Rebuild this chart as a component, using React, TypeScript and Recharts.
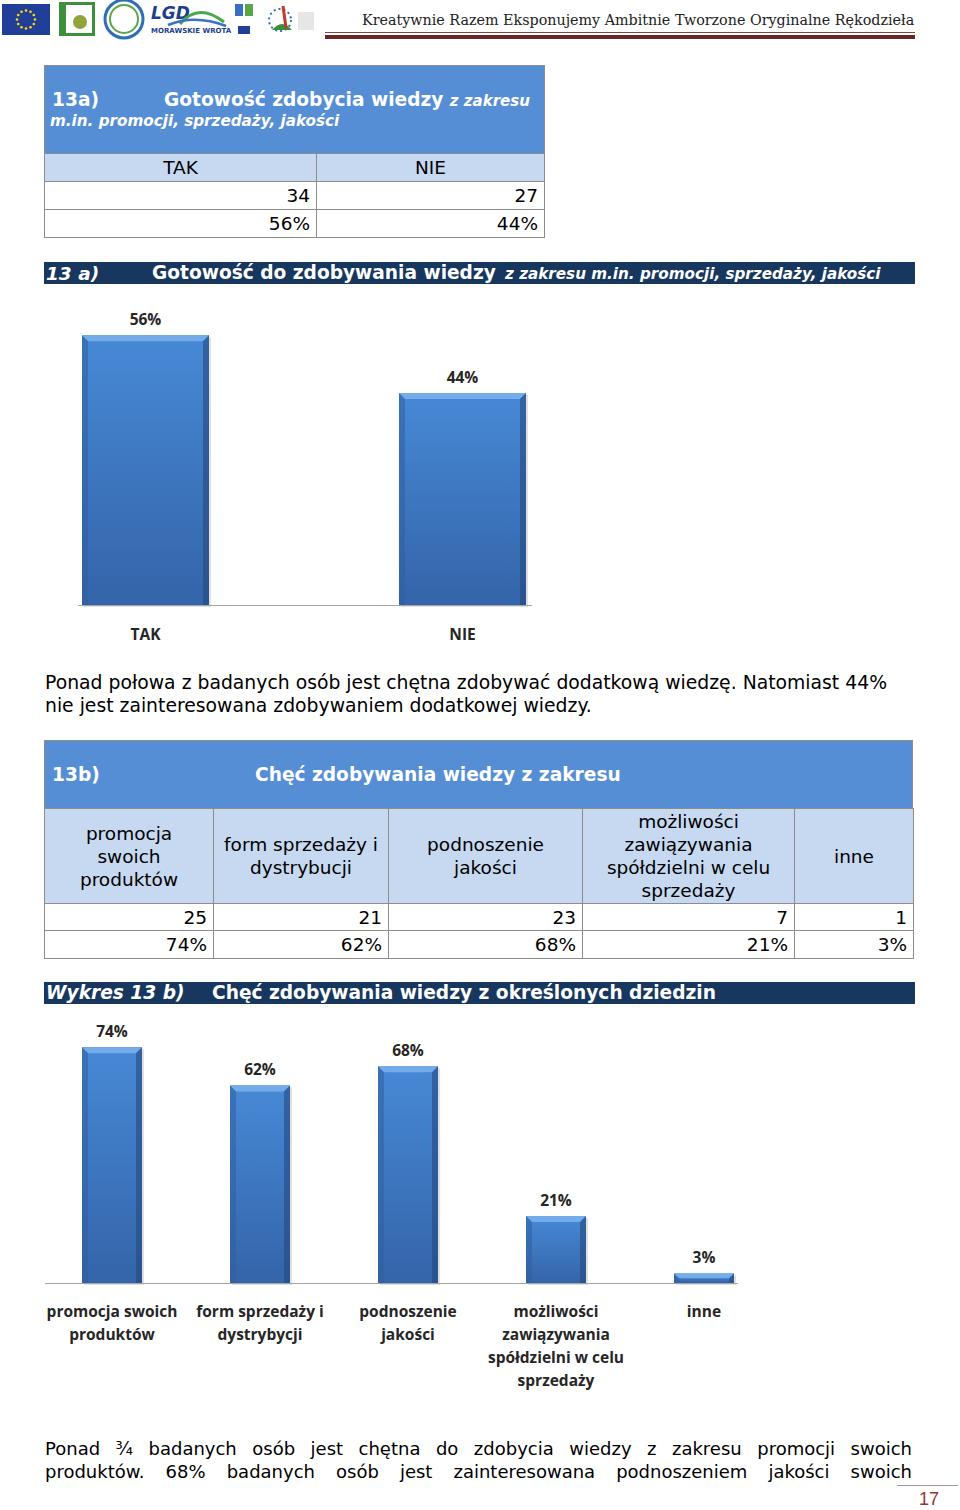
import React from "react";
import { BarChart, Bar, XAxis, YAxis, LabelList } from "recharts";

// 13a
const answers13a = ["TAK", "NIE"];
const counts13a = [34, 27];
const shares13a = [56, 44];

// 13b
const areas13b = [
  "promocja swoich\nproduktów",
  "form sprzedaży i\ndystrybycji",
  "podnoszenie\njakości",
  "możliwości\nzawiązywania\nspółdzielni w celu\nsprzedaży",
  "inne",
];
const tableHeads13b = [
  "promocja\nswoich\nproduktów",
  "form sprzedaży i\ndystrybucji",
  "podnoszenie\njakości",
  "możliwości\nzawiązywania\nspółdzielni w celu\nsprzedaży",
  "inne",
];
const counts13b = [25, 21, 23, 7, 1];
const shares13b = [74, 62, 68, 21, 3];

const data13a = answers13a.map((name, i) => ({ name, value: shares13a[i] }));
const data13b = areas13b.map((name, i) => ({ name, value: shares13b[i] }));

const SANS = '"DejaVu Sans", Verdana, sans-serif';
const LABEL_FONT = '"Open Sans", "Noto Sans", sans-serif';
const HEAD_BLUE = "#558ed5";
const LIGHT_BLUE = "#c6d9f1";
const NAVY = "#17375e";
const BORDER = "#8c8c8c";

const makeBar = (gid: string) => (props: any) => {
  const { x, y, width: w, height: h } = props;
  if (!h || h <= 0) return <g />;
  const b = Math.min(6, h / 2);
  return (
    <g>
      <rect x={x + 2} y={y + 2} width={w} height={h} fill="#000" opacity={0.12} />
      <rect x={x} y={y} width={w} height={h} fill={`url(#${gid})`} />
      <polygon points={`${x},${y} ${x + w},${y} ${x + w - b},${y + b} ${x + b},${y + b}`} fill="#74aceb" />
      <polygon points={`${x},${y} ${x + b},${y + b} ${x + b},${y + h} ${x},${y + h}`} fill="#2f5e9e" opacity={0.55} />
      <polygon points={`${x + w},${y} ${x + w - b},${y + b} ${x + w - b},${y + h} ${x + w},${y + h}`} fill="#24497e" opacity={0.6} />
    </g>
  );
};

const Grad = ({ id }: { id: string }) => (
  <defs>
    <linearGradient id={id} x1="0" y1="0" x2="0" y2="1">
      <stop offset="0%" stopColor="#4789d6" />
      <stop offset="100%" stopColor="#3464a9" />
    </linearGradient>
  </defs>
);

const makeTick = (first: number, step: number) => (props: any) => {
  const { x, y, payload } = props;
  const lines = String(payload.value).split("\n");
  return (
    <text x={x} y={y} textAnchor="middle" fontFamily={LABEL_FONT} fontWeight={700} fontSize={15.5} fill="#262626">
      {lines.map((l, i) => (
        <tspan key={i} x={x} dy={i === 0 ? first : step}>
          {l}
        </tspan>
      ))}
    </text>
  );
};

const pct = (v: any) => `${v}%`;

const Abs: React.FC<{ x: number; y: number; w?: number; h?: number; style?: React.CSSProperties; children?: React.ReactNode }> = ({
  x, y, w, h, style, children,
}) => (
  <div style={{ position: "absolute", left: x, top: y, width: w, height: h, boxSizing: "border-box", ...style }}>{children}</div>
);

// one line of text, vertically centred on cy
const Line: React.FC<{ x: number; cy: number; size: number; bold?: boolean; italic?: boolean; color?: string; children?: React.ReactNode }> = ({
  x, cy, size, bold, italic, color = "#fff", children,
}) => (
  <div
    style={{
      position: "absolute", left: x, top: cy - size, height: size * 2, lineHeight: `${size * 2}px`,
      fontFamily: SANS, fontSize: size, fontWeight: bold ? 700 : 400, fontStyle: italic ? "italic" : "normal",
      color, whiteSpace: "nowrap",
    }}
  >
    {children}
  </div>
);

const Cell: React.FC<{ x: number; y: number; w: number; h: number; bg?: string; align?: "center" | "right"; children?: React.ReactNode }> = ({
  x, y, w, h, bg = "#fff", align = "right", children,
}) => (
  <div
    style={{
      position: "absolute", left: x, top: y, width: w, height: h, boxSizing: "border-box",
      border: `1px solid ${BORDER}`, background: bg, display: "flex", alignItems: "center",
      justifyContent: align === "center" ? "center" : "flex-end", paddingRight: align === "right" ? 6 : 0,
      fontFamily: SANS, fontSize: 18.5, color: "#000", textAlign: "center", lineHeight: "23px", whiteSpace: "pre",
    }}
  >
    {children}
  </div>
);

const Logos = () => (
  <svg width={325} height={42} style={{ position: "absolute", left: 0, top: 0 }}>
    <rect x={2} y={4} width={48} height={31} fill="#213f99" />
    {Array.from({ length: 12 }).map((_, i) => {
      const a = (i / 12) * Math.PI * 2;
      return <circle key={i} cx={26 + Math.cos(a) * 9} cy={19.5 + Math.sin(a) * 9} r={1.3} fill="#ffdd00" />;
    })}
    <rect x={59} y={2} width={36} height={34} fill="#3d8f3a" />
    <rect x={66} y={5} width={26} height={28} fill="#fff" />
    <circle cx={80} cy={22} r={7} fill="#8fa53a" />
    <circle cx={124} cy={19} r={19} fill="#fff" stroke="#2d6fb3" strokeWidth={3} />
    <circle cx={124} cy={19} r={14} fill="none" stroke="#5aa646" strokeWidth={2} />
    <text x={151} y={19} fontFamily="DejaVu Sans" fontWeight={700} fontStyle="italic" fontSize={17} fill="#1d3f8f">LGD</text>
    <path d="M180 24 Q198 2 224 22" stroke="#4aa84a" strokeWidth={3} fill="none" />
    <path d="M168 25 Q195 14 226 26" stroke="#3a72c4" strokeWidth={2.5} fill="none" />
    <text x={151} y={33} fontFamily="DejaVu Sans" fontWeight={700} fontSize={7} fill="#1d3f8f">MORAWSKIE WROTA</text>
    <rect x={235} y={4} width={8} height={12} fill="#3a6fc4" />
    <rect x={245} y={4} width={8} height={12} fill="#5aa646" />
    <rect x={238} y={26} width={12} height={8} fill="#213f99" />
    <circle cx={280} cy={20} r={11} fill="none" stroke="#2d6fb3" strokeDasharray="2 3" strokeWidth={2} />
    <path d="M272 30 Q282 18 292 30" fill="#3d8f3a" />
    <path d="M283 6 L286 28" stroke="#c0392b" strokeWidth={3} />
    <rect x={298} y={12} width={16} height={18} fill="#e6e6e6" />
  </svg>
);

const colX13b = [44, 213, 388, 582, 794, 913];

export default function App() {
  return (
    <div style={{ position: "absolute", left: 0, top: 0, width: 960, height: 1510, background: "#fff", overflow: "hidden" }}>
      {/* page header */}
      <Logos />
      <div
        style={{
          position: "absolute", left: 362, top: 12, fontFamily: '"DejaVu Serif", serif', fontSize: 14.3,
          color: "#222", whiteSpace: "nowrap",
        }}
      >
        Kreatywnie Razem Eksponujemy Ambitnie Tworzone Oryginalne Rękodzieła
      </div>
      <Abs x={325} y={32} w={590} h={1} style={{ background: "#7a4a4a" }} />
      <Abs x={325} y={35} w={590} h={4} style={{ background: "#6b2626" }} />

      {/* table 13a */}
      <Abs x={44} y={65} w={501} h={89} style={{ background: HEAD_BLUE, border: `1px solid ${BORDER}` }} />
      <Line x={52} cy={100} size={18.6} bold>13a)</Line>
      <Line x={164} cy={100} size={18.6} bold>
        Gotowość zdobycia wiedzy <span style={{ fontSize: 15, fontStyle: "italic" }}>z zakresu</span>
      </Line>
      <Line x={50} cy={121} size={15.2} bold italic>m.in. promocji, sprzedaży, jakości</Line>
      {answers13a.map((a, i) => (
        <Cell key={a} x={i === 0 ? 44 : 316} y={153} w={i === 0 ? 273 : 229} h={29} bg={LIGHT_BLUE} align="center">{a}</Cell>
      ))}
      {counts13a.map((c, i) => (
        <Cell key={`c${i}`} x={i === 0 ? 44 : 316} y={181} w={i === 0 ? 273 : 229} h={29}>{c}</Cell>
      ))}
      {shares13a.map((s, i) => (
        <Cell key={`s${i}`} x={i === 0 ? 44 : 316} y={209} w={i === 0 ? 273 : 229} h={29}>{s}%</Cell>
      ))}

      {/* banner 13a */}
      <Abs x={44} y={262} w={871} h={22} style={{ background: NAVY }} />
      <Line x={46} cy={273} size={18.5} bold italic>13 a)</Line>
      <Line x={152} cy={273} size={18.6} bold>Gotowość do zdobywania wiedzy</Line>
      <Line x={505} cy={274} size={15.2} bold italic>z zakresu m.in. promocji, sprzedaży, jakości</Line>

      {/* chart 13a */}
      <div style={{ position: "absolute", left: -13, top: 291 }}>
        <BarChart width={634} height={359} data={data13a} margin={{ top: 25, right: 0, bottom: 0, left: 0 }}>
          <Grad id="barFillA" />
          <XAxis dataKey="name" height={45} axisLine={false} tickLine={false} tickSize={0} tickMargin={0} interval={0} tick={makeTick(35, 23)} />
          <YAxis hide domain={[0, 60]} />
          <Bar dataKey="value" barSize={127} isAnimationActive={false} shape={makeBar("barFillA")}>
            <LabelList dataKey="value" position="top" offset={10} formatter={pct} fill="#262626" fontFamily={LABEL_FONT} fontWeight={700} fontSize={15.5} />
          </Bar>
        </BarChart>
      </div>
      <Abs x={78} y={605} w={454} h={1} style={{ background: "#a6a6a6" }} />

      {/* paragraph 1 */}
      <div style={{ position: "absolute", left: 45, top: 671, width: 842, height: 23, lineHeight: "23px", fontFamily: SANS, fontSize: 18.8, textAlign: "justify", textAlignLast: "justify", whiteSpace: "nowrap" }}>
        Ponad połowa z badanych osób jest chętna zdobywać dodatkową wiedzę. Natomiast 44%
      </div>
      <div style={{ position: "absolute", left: 45, top: 694, lineHeight: "23px", fontFamily: SANS, fontSize: 18.8, whiteSpace: "nowrap" }}>
        nie jest zainteresowana zdobywaniem dodatkowej wiedzy.
      </div>

      {/* table 13b */}
      <Abs x={44} y={740} w={869} h={69} style={{ background: HEAD_BLUE, border: `1px solid ${BORDER}` }} />
      <Line x={52} cy={775} size={18.6} bold>13b)</Line>
      <Line x={255} cy={775} size={18.6} bold>Chęć zdobywania wiedzy z zakresu</Line>
      {tableHeads13b.map((t, i) => (
        <Cell key={`h${i}`} x={colX13b[i]} y={808} w={colX13b[i + 1] - colX13b[i] + 1} h={96} bg={LIGHT_BLUE} align="center">{t}</Cell>
      ))}
      {counts13b.map((c, i) => (
        <Cell key={`bc${i}`} x={colX13b[i]} y={903} w={colX13b[i + 1] - colX13b[i] + 1} h={28}>{c}</Cell>
      ))}
      {shares13b.map((s, i) => (
        <Cell key={`bs${i}`} x={colX13b[i]} y={930} w={colX13b[i + 1] - colX13b[i] + 1} h={29}>{s}%</Cell>
      ))}

      {/* banner 13b */}
      <Abs x={44} y={982} w={871} h={22} style={{ background: NAVY }} />
      <Line x={46} cy={993} size={18.6} bold italic>Wykres 13 b)</Line>
      <Line x={212} cy={993} size={18.6} bold>Chęć zdobywania wiedzy z określonych dziedzin</Line>

      {/* chart 13b */}
      <div style={{ position: "absolute", left: 38, top: 1003 }}>
        <BarChart width={740} height={390} data={data13b} margin={{ top: 25, right: 0, bottom: 0, left: 0 }}>
          <Grad id="barFillB" />
          <XAxis dataKey="name" height={110} axisLine={false} tickLine={false} tickSize={0} tickMargin={0} interval={0} tick={makeTick(34, 23)} />
          <YAxis hide domain={[0, 80]} />
          <Bar dataKey="value" barSize={60} isAnimationActive={false} shape={makeBar("barFillB")}>
            <LabelList dataKey="value" position="top" offset={10} formatter={pct} fill="#262626" fontFamily={LABEL_FONT} fontWeight={700} fontSize={15.5} />
          </Bar>
        </BarChart>
      </div>
      <Abs x={45} y={1283} w={693} h={1} style={{ background: "#a6a6a6" }} />

      {/* paragraph 2 */}
      {[
        "Ponad ¾ badanych osób jest chętna do zdobycia wiedzy z zakresu promocji swoich",
        "produktów. 68% badanych osób jest zainteresowana podnoszeniem jakości swoich",
      ].map((t, i) => (
        <div key={i} style={{ position: "absolute", left: 45, top: 1437 + i * 23, width: 867, height: 23, lineHeight: "23px", fontFamily: SANS, fontSize: 18, textAlign: "justify", textAlignLast: "justify", whiteSpace: "nowrap" }}>
          {t}
        </div>
      ))}

      {/* page number */}
      <Abs x={897} y={1485} w={61} h={1} style={{ background: "#a89494" }} />
      <div style={{ position: "absolute", left: 919, top: 1488, fontFamily: '"Liberation Sans", sans-serif', fontSize: 18, color: "#943634", lineHeight: "22px" }}>17</div>
    </div>
  );
}
